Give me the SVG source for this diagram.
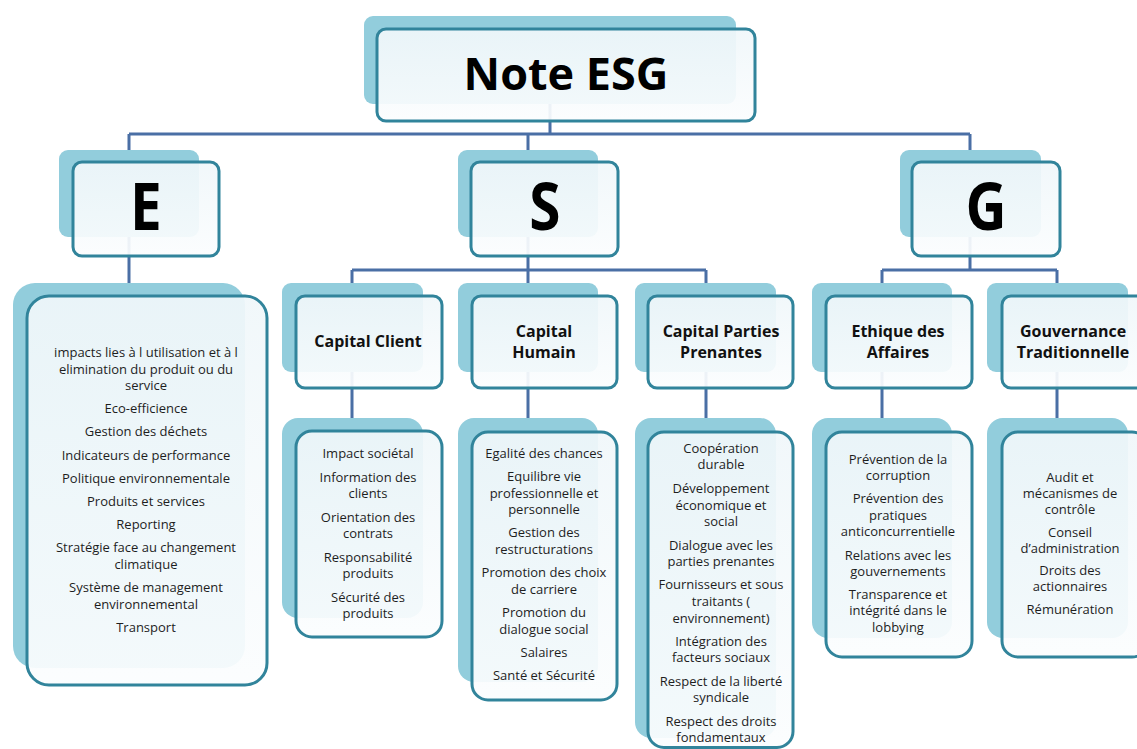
<svg xmlns="http://www.w3.org/2000/svg" width="1137" height="749" viewBox="0 0 1137 749">
<defs>
<linearGradient id="fg" x1="0" y1="0" x2="0" y2="1">
<stop offset="0" stop-color="#f0f7fa"/>
<stop offset="1" stop-color="#fbfdfe"/>
</linearGradient>
<style>
.sh{fill:#92cddc;}
.fr{fill:url(#fg);fill-opacity:0.93;stroke:#31849b;stroke-width:3;}
.cn{fill:none;stroke:#4a6fa5;stroke-width:3;}
.big{font-family:"Open Sans","Liberation Sans",sans-serif;font-weight:700;fill:#000;text-anchor:middle;}
.h2{font-family:"Open Sans","Liberation Sans",sans-serif;font-weight:700;font-size:16px;fill:#111;text-anchor:middle;}
.it{font-family:"Open Sans","Liberation Sans",sans-serif;font-size:13px;fill:#1e1e1e;text-anchor:middle;}
</style>
</defs>
<rect width="1137" height="749" fill="#ffffff"/>
<g id="connectors">
<path class="cn" d="M550,104 V134 M129,134 H970 M129,134 V150 M528,134 V150 M970,134 V150"/>
<path class="cn" d="M129,237 V283"/>
<path class="cn" d="M528,237 V270 M352,270 H706 M352,270 V283 M528,270 V283 M706,270 V283"/>
<path class="cn" d="M970,237 V270 M882,270 H1057 M882,270 V283 M1057,270 V283"/>
<path class="cn" d="M352,372 V418 M528,372 V418 M706,372 V418 M882,372 V418 M1057,372 V418"/>
</g>
<g id="note-esg">
<rect class="sh" x="364" y="16" width="372" height="88" rx="9"/>
<rect class="fr" x="377" y="29" width="378" height="92" rx="9"/>
<text class="big" x="566" y="90" font-size="45">Note ESG</text>
</g>
<g id="node-e">
<rect class="sh" x="59" y="150" width="140" height="87" rx="9"/>
<rect class="fr" x="73" y="162" width="146" height="94" rx="9"/>
<text class="big" transform="translate(146,230) scale(0.86,1)" font-size="66">E</text>
</g>
<g id="node-s">
<rect class="sh" x="458" y="150" width="140" height="87" rx="9"/>
<rect class="fr" x="471" y="162" width="147" height="94" rx="9"/>
<text class="big" transform="translate(545,230) scale(0.86,1)" font-size="66">S</text>
</g>
<g id="node-g">
<rect class="sh" x="900" y="150" width="141" height="87" rx="9"/>
<rect class="fr" x="912" y="162" width="148" height="94" rx="9"/>
<text class="big" transform="translate(986,230) scale(0.86,1)" font-size="66">G</text>
</g>
<g id="e-items">
<rect class="sh" x="13" y="283" width="232" height="385" rx="22"/>
<rect class="fr" x="27" y="296" width="240" height="389" rx="22"/>
<text class="it" x="146" y="357">impacts lies à l utilisation et à l</text>
<text class="it" x="146" y="373.5">elimination du produit ou du</text>
<text class="it" x="146" y="390">service</text>
<text class="it" x="146" y="413">Eco-efficience</text>
<text class="it" x="146" y="436">Gestion des déchets</text>
<text class="it" x="146" y="459.5">Indicateurs de performance</text>
<text class="it" x="146" y="482.5">Politique environnementale</text>
<text class="it" x="146" y="505.5">Produits et services</text>
<text class="it" x="146" y="528.5">Reporting</text>
<text class="it" x="146" y="552">Stratégie face au changement</text>
<text class="it" x="146" y="569">climatique</text>
<text class="it" x="146" y="592">Système de management</text>
<text class="it" x="146" y="609">environnemental</text>
<text class="it" x="146" y="632">Transport</text>
</g>
<g id="capital-client">
<rect class="sh" x="282" y="283" width="141" height="89" rx="9"/>
<rect class="fr" x="296" y="296" width="146" height="92" rx="9"/>
<text class="h2" x="368" y="347">Capital Client</text>
</g>
<g id="capital-client-items">
<rect class="sh" x="282" y="418" width="141" height="200" rx="16"/>
<rect class="fr" x="296" y="431" width="146" height="206" rx="16"/>
<text class="it" x="368" y="458">Impact sociétal</text>
<text class="it" x="368" y="481.5">Information des</text>
<text class="it" x="368" y="498">clients</text>
<text class="it" x="368" y="521.5">Orientation des</text>
<text class="it" x="368" y="538">contrats</text>
<text class="it" x="368" y="561.5">Responsabilité</text>
<text class="it" x="368" y="578">produits</text>
<text class="it" x="368" y="601.5">Sécurité des</text>
<text class="it" x="368" y="618">produits</text>
</g>
<g id="capital-humain">
<rect class="sh" x="458" y="283" width="140" height="89" rx="9"/>
<rect class="fr" x="472" y="296" width="145" height="92" rx="9"/>
<text class="h2" x="544" y="337">Capital</text>
<text class="h2" x="544" y="358">Humain</text>
</g>
<g id="capital-humain-items">
<rect class="sh" x="458" y="418" width="140" height="264" rx="16"/>
<rect class="fr" x="472" y="432" width="145" height="268" rx="16"/>
<text class="it" x="544" y="458">Egalité des chances</text>
<text class="it" x="544" y="481">Equilibre vie</text>
<text class="it" x="544" y="497.5">professionnelle et</text>
<text class="it" x="544" y="514">personnelle</text>
<text class="it" x="544" y="537">Gestion des</text>
<text class="it" x="544" y="553.5">restructurations</text>
<text class="it" x="544" y="577">Promotion des choix</text>
<text class="it" x="544" y="593.5">de carriere</text>
<text class="it" x="544" y="617">Promotion du</text>
<text class="it" x="544" y="633.5">dialogue social</text>
<text class="it" x="544" y="657">Salaires</text>
<text class="it" x="544" y="680">Santé et Sécurité</text>
</g>
<g id="capital-parties-prenantes">
<rect class="sh" x="635" y="283" width="141" height="89" rx="9"/>
<rect class="fr" x="648" y="296" width="145" height="92" rx="9"/>
<text class="h2" x="721" y="337">Capital Parties</text>
<text class="h2" x="721" y="358">Prenantes</text>
</g>
<g id="capital-parties-prenantes-items">
<rect class="sh" x="635" y="418" width="141" height="320" rx="16"/>
<rect class="fr" x="648" y="432" width="145" height="315.5" rx="16"/>
<text class="it" x="721" y="453">Coopération</text>
<text class="it" x="721" y="469">durable</text>
<text class="it" x="721" y="493">Développement</text>
<text class="it" x="721" y="509.5">économique et</text>
<text class="it" x="721" y="526">social</text>
<text class="it" x="721" y="550">Dialogue avec les</text>
<text class="it" x="721" y="566">parties prenantes</text>
<text class="it" x="721" y="589">Fournisseurs et sous</text>
<text class="it" x="721" y="606">traitants (</text>
<text class="it" x="721" y="623">environnement)</text>
<text class="it" x="721" y="646">Intégration des</text>
<text class="it" x="721" y="662">facteurs sociaux</text>
<text class="it" x="721" y="686">Respect de la liberté</text>
<text class="it" x="721" y="702">syndicale</text>
<text class="it" x="721" y="726">Respect des droits</text>
<text class="it" x="721" y="742">fondamentaux</text>
</g>
<g id="ethique-des-affaires">
<rect class="sh" x="812" y="283" width="140" height="89" rx="9"/>
<rect class="fr" x="826" y="296" width="146" height="92" rx="9"/>
<text class="h2" x="898" y="337">Ethique des</text>
<text class="h2" x="898" y="358">Affaires</text>
</g>
<g id="ethique-des-affaires-items">
<rect class="sh" x="812" y="418" width="140" height="220" rx="16"/>
<rect class="fr" x="826" y="432" width="146" height="225" rx="16"/>
<text class="it" x="898" y="464">Prévention de la</text>
<text class="it" x="898" y="480">corruption</text>
<text class="it" x="898" y="503">Prévention des</text>
<text class="it" x="898" y="519.5">pratiques</text>
<text class="it" x="898" y="536">anticoncurrentielle</text>
<text class="it" x="898" y="559.5">Relations avec les</text>
<text class="it" x="898" y="576">gouvernements</text>
<text class="it" x="898" y="598.5">Transparence et</text>
<text class="it" x="898" y="615">intégrité dans le</text>
<text class="it" x="898" y="631.5">lobbying</text>
</g>
<g id="gouvernance-traditionnelle">
<rect class="sh" x="987" y="283" width="141" height="89" rx="9"/>
<rect class="fr" x="1002" y="296" width="146" height="92" rx="9"/>
<text class="h2" x="1073" y="337">Gouvernance</text>
<text class="h2" x="1073" y="358">Traditionnelle</text>
</g>
<g id="gouvernance-traditionnelle-items">
<rect class="sh" x="987" y="418" width="141" height="220" rx="16"/>
<rect class="fr" x="1002" y="432" width="146" height="225" rx="16"/>
<text class="it" x="1070" y="482">Audit et</text>
<text class="it" x="1070" y="498">mécanismes de</text>
<text class="it" x="1070" y="514">contrôle</text>
<text class="it" x="1070" y="536.5">Conseil</text>
<text class="it" x="1070" y="552.5">d’administration</text>
<text class="it" x="1070" y="575">Droits des</text>
<text class="it" x="1070" y="591">actionnaires</text>
<text class="it" x="1070" y="613.5">Rémunération</text>
</g>
</svg>
